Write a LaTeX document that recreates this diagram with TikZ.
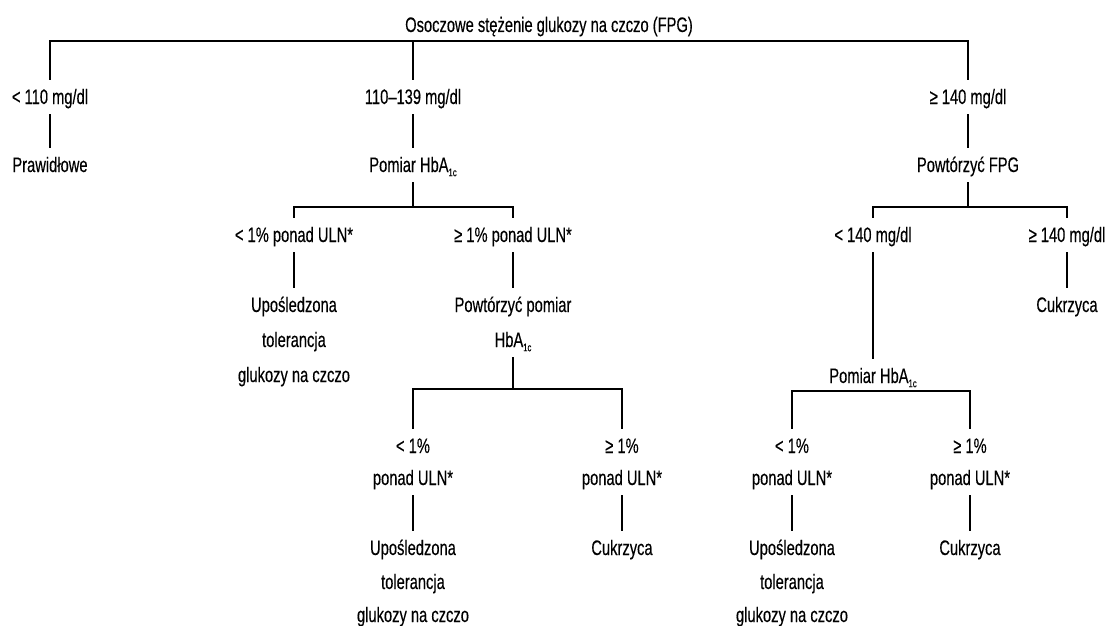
\documentclass[tikz,border=0pt]{standalone}
\usepackage{fontspec}
\setmainfont{Liberation Sans}[FakeStretch=0.70,FakeBold=0.3]
\newcommand\hbsub{HbA\raisebox{-0.2em}{\fontsize{11}{11}\selectfont 1c}}
\begin{document}
\begin{tikzpicture}[x=1pt,y=-1pt,
  lbl/.style={font=\fontsize{21}{25}\selectfont, inner xsep=0pt, inner ysep=10pt,
    text height=14pt, text depth=0pt, anchor=base},
  conn/.style={line width=1.3pt}]
\useasboundingbox (0,0) rectangle (1113,626);
% nodes
\node[lbl] (title) at (549,32) {Osoczowe stężenie glukozy na czczo (FPG)};
\node[lbl] (a1) at (50,104) {< 110 mg/dl};
\node[lbl] (a2) at (413,104) {110–139 mg/dl};
\node[lbl] (a3) at (968,104) {≥ 140 mg/dl};
\node[lbl] (b1) at (50,172) {Prawidłowe};
\node[lbl] (b2) at (413,172) {Pomiar \hbsub};
\node[lbl] (b3) at (968,172) {Powtórzyć FPG};
\node[lbl] (c1) at (294,242) {< 1\% ponad ULN*};
\node[lbl] (c2) at (513,242) {≥ 1\% ponad ULN*};
\node[lbl] (c3) at (873,242) {< 140 mg/dl};
\node[lbl] (c4) at (1067,242) {≥ 140 mg/dl};
\node[lbl] (d1a) at (294,312) {Upośledzona};
\node[lbl] (d1b) at (294,347) {tolerancja};
\node[lbl] (d1c) at (294,382) {glukozy na czczo};
\node[lbl] (d2a) at (513,312) {Powtórzyć pomiar};
\node[lbl] (d2b) at (513,347) {\hbsub};
\node[lbl] (d4) at (1067,312) {Cukrzyca};
\node[lbl] (d3) at (873,383) {Pomiar \hbsub};
\node[lbl] (e1a) at (413,453) {< 1\%};
\node[lbl] (e1b) at (413,485) {ponad ULN*};
\node[lbl] (e2a) at (622,453) {≥ 1\%};
\node[lbl] (e2b) at (622,485) {ponad ULN*};
\node[lbl] (e3a) at (792,453) {< 1\%};
\node[lbl] (e3b) at (792,485) {ponad ULN*};
\node[lbl] (e4a) at (970,453) {≥ 1\%};
\node[lbl] (e4b) at (970,485) {ponad ULN*};
\node[lbl] (f1a) at (413,555) {Upośledzona};
\node[lbl] (f1b) at (413,589) {tolerancja};
\node[lbl] (f1c) at (413,622) {glukozy na czczo};
\node[lbl] (f2) at (622,555) {Cukrzyca};
\node[lbl] (f3a) at (792,555) {Upośledzona};
\node[lbl] (f3b) at (792,589) {tolerancja};
\node[lbl] (f3c) at (792,622) {glukozy na czczo};
\node[lbl] (f4) at (970,555) {Cukrzyca};
% bar coordinates
\coordinate (t1) at (968,41);
\coordinate (bar1) at (513,207);
\coordinate (bar2) at (1067,207);
\coordinate (bar3) at (622,389);
\coordinate (bar4) at (970,391);
% connectors
\draw[conn] (a1.north) |- (t1) -- (a3.north);
\draw[conn] (a2.north) -- (a2.north |- t1);
\draw[conn] (a1.south) -- (b1.north);
\draw[conn] (a2.south) -- (b2.north);
\draw[conn] (a3.south) -- (b3.north);
\draw[conn] (b2.south) -- (b2.south |- bar1);
\draw[conn] (c1.north) |- (bar1) -- (c2.north);
\draw[conn] (b3.south) -- (b3.south |- bar2);
\draw[conn] (c3.north) |- (bar2) -- (c4.north);
\draw[conn] (c1.south) -- (d1a.north);
\draw[conn] (c2.south) -- (d2a.north);
\draw[conn] (c3.south) -- (d3.north);
\draw[conn] (c4.south) -- (d4.north);
\draw[conn] (d2b.south) -- (d2b.south |- bar3);
\draw[conn] (e1a.north) |- (bar3) -- (e2a.north);
\draw[conn] (e3a.north) |- (bar4) -- (e4a.north);
\draw[conn] (e1b.south) -- (f1a.north);
\draw[conn] (e2b.south) -- (f2.north);
\draw[conn] (e3b.south) -- (f3a.north);
\draw[conn] (e4b.south) -- (f4.north);
\end{tikzpicture}
\end{document}
